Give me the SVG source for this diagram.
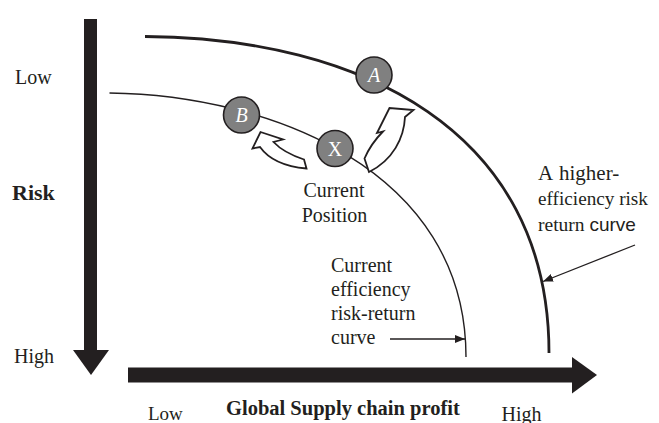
<svg xmlns="http://www.w3.org/2000/svg" width="659" height="423" viewBox="0 0 659 423">
<defs>
<style>
.t{font-family:"Liberation Serif","Times New Roman",serif;font-size:20px;fill:#231f20}
.b{font-weight:bold}
.s{font-family:"Liberation Sans",Arial,sans-serif;font-size:19px;fill:#231f20}
.axis{fill:#231f20}
.curve{fill:none;stroke:#231f20}
.node circle{fill:#808080;stroke:#231f20;stroke-width:1.6}
.node text{font-family:"Liberation Serif","Times New Roman",serif;font-size:20px;fill:#ffffff;text-anchor:middle}
.hollow{fill:#ffffff;stroke:#231f20;stroke-width:1.8;stroke-linejoin:miter}
.lead{stroke:#231f20;stroke-width:1.3;fill:none}
</style>
<marker id="ah" viewBox="0 0 10 8" refX="10" refY="4" markerWidth="10" markerHeight="8" markerUnits="userSpaceOnUse" orient="auto">
<path d="M0,0 L10,4 L0,8 Z" fill="#231f20"/>
</marker>
</defs>
<rect width="659" height="423" fill="#ffffff"/>

<g id="axes">
<rect class="axis" x="84" y="19" width="13" height="332"/>
<polygon class="axis" points="73,350 109,350 91,375"/>
<rect class="axis" x="128" y="367.5" width="445" height="15"/>
<polygon class="axis" points="572,357 572,393.5 597,375"/>
</g>

<g id="curves">
<path class="curve" d="M145,36.5 C360,38 549,130 549,353" stroke-width="2.8"/>
<path class="curve" d="M109.5,93 C270,95 466,170 466,357" stroke-width="1.4"/>
</g>

<g id="connectors">
<path class="hollow" d="M260.5,132 L283,139.5 L273.5,142 C281,150 292,155.5 304,159.5 L306.5,168.5 C289,167 270,161 260,147 L252.5,148.5 Z"/>
<path class="hollow" d="M364.5,158.5 C369.5,147 376.5,138 383,131.5 L377,133 L389.5,108 L413.5,110 L405,117 C404,138 393,160 369,172 Z"/>
<line class="lead" x1="390" y1="339" x2="465" y2="339" marker-end="url(#ah)"/>
<line class="lead" x1="635" y1="245" x2="543" y2="281.5" marker-end="url(#ah)"/>
</g>

<g id="node-A" class="node">
<circle cx="374" cy="75" r="18"/>
<text x="374" y="82" font-style="italic">A</text>
</g>
<g id="node-B" class="node">
<circle cx="241.5" cy="115" r="18"/>
<text x="241.5" y="122" font-style="italic">B</text>
</g>
<g id="node-X" class="node">
<circle cx="335" cy="148.5" r="18"/>
<text x="335" y="155.5">X</text>
</g>

<g id="labels">
<text class="t" x="15" y="84" font-size="19">Low</text>
<text class="t b" x="12" y="200" style="font-size:22px">Risk</text>
<text class="t" x="14" y="363">High</text>
<text class="t" x="148" y="419.5" style="font-size:19px">Low</text>
<text class="t b" x="226" y="414.5" style="font-size:20.5px">Global Supply chain profit</text>
<text class="t" x="501.5" y="420.5">High</text>
<text class="t" x="334" y="196.5" text-anchor="middle">Current</text>
<text class="t" x="334.5" y="221.5" text-anchor="middle">Position</text>
<text class="t" x="331" y="271.5">Current</text>
<text class="t" x="331" y="295.5">efficiency</text>
<text class="t" x="331" y="320">risk-return</text>
<text class="t" x="331" y="343.5">curve</text>
<text class="t" x="538" y="180" style="font-size:21px">A <tspan x="559">higher-</tspan></text>
<text class="t" x="538" y="205" style="font-size:19.2px">efficiency risk</text>
<text class="t" x="538" y="231" style="font-size:19.5px">return <tspan class="s">curve</tspan></text>
</g>
</svg>
